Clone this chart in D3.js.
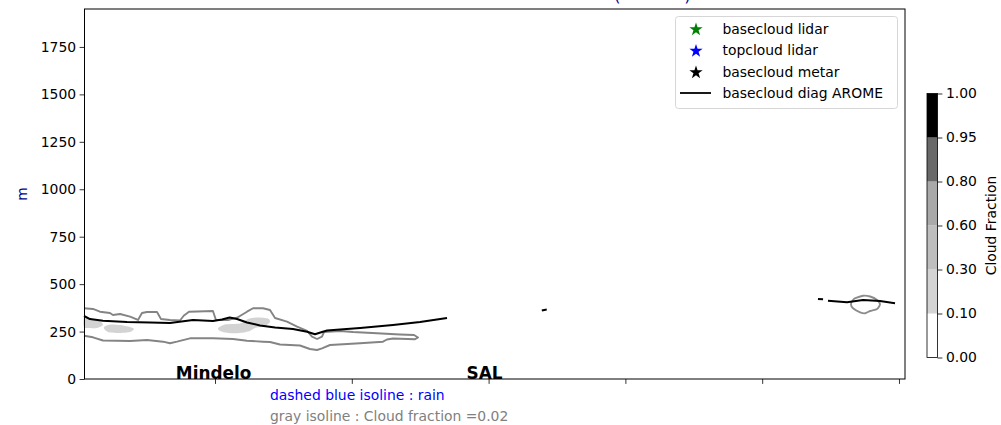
<!DOCTYPE html>
<html><head><meta charset="utf-8">
<script src="https://cdn.jsdelivr.net/npm/d3@7"></script>
<style>body{margin:0;background:#fff}svg{display:block;font-family:"DejaVu Sans",sans-serif}</style>
</head><body><svg id="c" width="1001" height="425"></svg>
<script>
// ---- data ----
const yTicks = [0, 250, 500, 750, 1000, 1250, 1500, 1750];
const xTicks = [100, 200, 300, 400, 500, 600];
const stations = ["Mindelo", "SAL"];
const stationX = [99, 297];
// basecloud diag AROME (null = gap)
const aromeX = [4.24,8.6,18.1,35.7,52.5,67.1,83.9,98.5,105.1,110.7,116.1,123.4,132.9,143.9,157.0,167.3,173.1,178.2,181.9,191.4,206.1,230.1,249.9,269.6,null,
  338.9,342.5,null,540.8,544.5,null,548.1,562.0,573.7,586.1,597.1];
const aromeY = [332,316,307,300,298,295,311,306,314,324,316,298,282,271,264,249,236,248,256,261,269,285,300,322,null,
  361,366,null,422,420,null,413,404,416,411,399];
// gray isoline cloud fraction = 0.02 (open contour touching left edge)
const iso1X = [4.24,10.8,15.9,23.2,25.4,30.6,37.9,43.7,46.6,50.3,57.6,60.5,67.1,74.4,77.3,81.0,98.5,100.7,109.5,116.1,123.4,127.8,135.1,140.2,143.9,152.6,160.0,167.3,170.9,174.6,178.2,179.7,191.4,200.9,218.4,235.2,245.5,248.4,246.2,230.1,225.7,222.8,206.0,193.6,184.1,178.2,174.6,169.4,162.1,154.8,147.5,140.2,135.1,123.4,113.2,98.5,81.7,72.2,67.1,62.0,50.3,37.9,18.1,10.8,4.24];
const iso1Y = [372.7,369,354.7,347.9,337.3,342.6,328.4,311,347.9,353.2,353.2,316.3,311,308.4,334.7,354.7,358.4,311,311,323.1,354.7,372.7,372.7,363.7,321.5,302,275.7,253,223,210.8,223,247.7,253,247.7,240.9,234.6,231.9,218.8,209.3,213.5,208.2,196.6,188.2,182.9,179.2,161.8,152.9,158.1,176.6,179.2,181.9,195,196.6,201.9,210.8,214.5,214.5,196.6,188.2,196.6,205.6,200.3,202.9,219.8,228.2];
// closed isoline near the right
const iso2X = [564.9,566.4,568.6,573.7,578.9,584.0,586.1,584.0,578.9,575.2,571.6,566.4];
const iso2Y = [393.7,416.4,427,439.1,434.9,416.4,393.7,369,358.4,346.3,351.6,372.7];
// cloud fraction 0.10-0.30 patches
const patchAX = [4.24,10.1,16.0,18.1,13.8,7.2,4.24];
const patchAY = [321.5,316.3,305.7,284.6,268.8,268.8,274.1];
const patchBX = [18.8,23.2,30.6,37.9,40.8,37.9,30.6,23.2,19.6];
const patchBY = [274.1,287.3,284.6,274.1,263.5,247.7,242.5,245.1,258.9];
const patchCX = [102.3,107.3,118.3,124.1,131.4,138.7,140.2,136.5,129.2,125.5,118.3,109.5,103.7];
const patchCY = [268.8,287.3,292.5,316.3,324.2,318.9,300.4,279.3,268.8,253,242.5,242.5,253];
// colorbar
const cfLevels = [0, 0.10, 0.30, 0.60, 0.80, 0.95, 1.00];
const cfColors = ["#ffffff", "#d3d3d3", "#bebebe", "#a9a9a9", "#696969", "#000000"];
const legendLabels = ["basecloud lidar", "topcloud lidar", "basecloud metar", "basecloud diag AROME"];
const legendColors = ["green", "blue", "black", "black"];

// ---- drawing ----
const svg = d3.select("#c");
const L = 84.5, R = 905, T = 9, B = 379;
const x = d3.scaleLinear().domain([4.6, 604.4]).range([L, R]);
const y = d3.scaleLinear().domain([0, 1950]).range([B, T]);

const zip = (a, b) => a.map((v, i) => [v, b[i]]);

const g = svg.append("g");
// patches
[[patchAX, patchAY], [patchBX, patchBY], [patchCX, patchCY]].forEach(([px, py]) => {
  g.append("path").attr("d", d3.line().x(d => x(d[0])).y(d => y(d[1])).curve(d3.curveCardinalClosed.tension(0.3))(zip(px, py)))
   .attr("fill", cfColors[1]);
});
// gray isolines
g.append("path").attr("d", d3.line().x(d => x(d[0])).y(d => y(d[1]))(zip(iso1X, iso1Y)))
  .attr("fill", "none").attr("stroke", "#848484").attr("stroke-width", 1.9).attr("stroke-linejoin", "round");
g.append("path").attr("d", d3.line().x(d => x(d[0])).y(d => y(d[1])).curve(d3.curveCardinalClosed.tension(0.3))(zip(iso2X, iso2Y)))
  .attr("fill", "none").attr("stroke", "#8c8c8c").attr("stroke-width", 1.9);
// AROME line
g.append("path").attr("d", d3.line().defined(d => d[0] != null).x(d => x(d[0])).y(d => y(d[1]))(zip(aromeX, aromeY)))
  .attr("fill", "none").attr("stroke", "black").attr("stroke-width", 2).attr("stroke-linejoin", "round");

// station labels
stations.forEach((s, i) => {
  svg.append("text").attr("x", x(stationX[i])).attr("y", B).attr("text-anchor", "middle")
    .attr("font-weight", "bold").attr("font-size", 16.9).attr("fill", "black").text(s);
});

// axes frame
svg.append("rect").attr("x", L).attr("y", T).attr("width", R - L).attr("height", B - T)
  .attr("fill", "none").attr("stroke", "black").attr("stroke-width", 1);

const ya = svg.append("g").attr("transform", `translate(${L},0)`)
  .call(d3.axisLeft(y).tickValues(yTicks).tickSize(4.9).tickPadding(3.5).tickFormat(d3.format("d")));
const xa = svg.append("g").attr("transform", `translate(0,${B})`)
  .call(d3.axisBottom(x).tickValues(xTicks).tickSize(4.9).tickFormat(""));
[ya, xa].forEach(a => {
  a.select(".domain").remove();
  a.selectAll("line").attr("stroke", "black").attr("stroke-width", 0.8);
  a.selectAll("text").attr("font-size", 13.9).attr("fill", "black").attr("font-family", "DejaVu Sans");
});

// y label
svg.append("text").attr("transform", `translate(27,194) rotate(-90)`).attr("text-anchor", "middle")
  .attr("font-size", 13.9).attr("fill", "#00008b").text("m");

// cut-off title parens
svg.append("text").attr("x", 614).attr("y", 1).attr("font-size", 16.7).attr("fill", "#00008b")
  .attr("xml:space", "preserve").style("white-space", "pre").text("(            )");

// bottom notes
svg.append("text").attr("x", 270).attr("y", 400).attr("font-size", 13.9).attr("fill", "blue").text("dashed blue isoline : rain");
svg.append("text").attr("x", 270).attr("y", 421).attr("font-size", 13.9).attr("fill", "gray").text("gray isoline : Cloud fraction =0.02");

// legend
const lg = svg.append("g");
lg.append("rect").attr("x", 675.5).attr("y", 16.5).attr("width", 222).attr("height", 92).attr("rx", 3)
  .attr("fill", "white").attr("fill-opacity", 0.8).attr("stroke", "#d6d6d6");
legendLabels.forEach((lab, i) => {
  const cy = 28.5 + i * 21.5;
  if (i < 3) {
    lg.append("path").attr("d", d3.symbol(d3.symbolStar, 55)()).attr("transform", `translate(696,${cy + 1})`)
      .attr("fill", legendColors[i]);
  } else {
    lg.append("line").attr("x1", 680).attr("x2", 711).attr("y1", cy).attr("y2", cy)
      .attr("stroke", legendColors[i]).attr("stroke-width", 1.8);
  }
  lg.append("text").attr("x", 722.5).attr("y", cy + 5).attr("font-size", 13.9).attr("fill", "black").text(lab);
});

// colorbar
const cbL = 927, cbW = 10.5, cbT = 93.5, cbB = 357.5;
const cy = d3.scalePoint().domain(cfLevels.map(String)).range([cbB, cbT]);
const cb = svg.append("g");
cfColors.forEach((c, i) => {
  cb.append("rect").attr("x", cbL).attr("width", cbW)
    .attr("y", cy(String(cfLevels[i + 1]))).attr("height", cy(String(cfLevels[i])) - cy(String(cfLevels[i + 1])))
    .attr("fill", c);
});
cb.append("rect").attr("x", cbL).attr("y", cbT).attr("width", cbW).attr("height", cbB - cbT)
  .attr("fill", "none").attr("stroke", "black").attr("stroke-width", 0.8);
const cba = cb.append("g").attr("transform", `translate(${cbL + cbW},0)`)
  .call(d3.axisRight(cy).tickSize(4.9).tickPadding(3.5).tickFormat(d => d3.format(".2f")(+d)));
cba.select(".domain").remove();
cba.selectAll("line").attr("stroke", "black").attr("stroke-width", 0.8);
cba.selectAll("text").attr("font-size", 13.9).attr("fill", "black").attr("font-family", "DejaVu Sans");
svg.append("text").attr("transform", `translate(996,${(cbT + cbB) / 2}) rotate(-90)`).attr("text-anchor", "middle")
  .attr("font-size", 13.9).attr("fill", "black").text("Cloud Fraction");
</script></body></html>
